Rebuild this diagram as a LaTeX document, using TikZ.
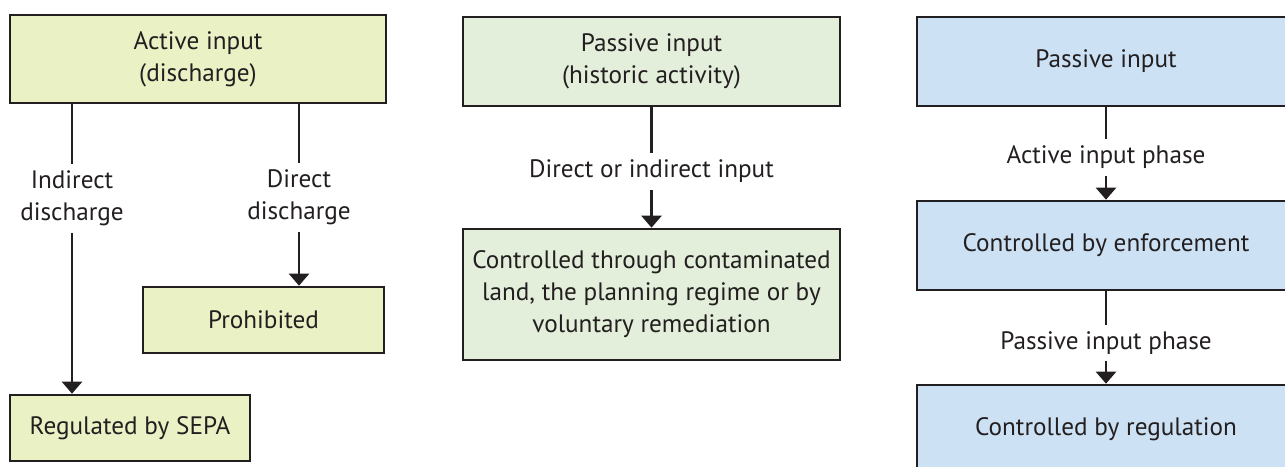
\documentclass[tikz,border=0pt]{standalone}
\usepackage{fontspec}
\setmainfont{PT Sans}
\usetikzlibrary{arrows.meta}
\definecolor{activefill}{HTML}{EAF1C4}
\definecolor{passivefill}{HTML}{E3EFDA}
\definecolor{phasefill}{HTML}{CCE1F3}
\definecolor{linecol}{HTML}{231F20}
\begin{document}
\begin{tikzpicture}[x=0.5pt,y=-0.5pt]
		\tikzstyle{every node}+=[font=\fontsize{12.6}{16}\selectfont, text=linecol]
		\tikzstyle{box}=[draw=linecol, line width=1.3pt, align=center, inner sep=0pt]
		\tikzstyle{lbl}=[fill=white, align=center, inner sep=3.5pt]
		\tikzstyle{arr}=[linecol, line width=1.2pt, -{Triangle[width=10pt,length=6pt]}]
		\useasboundingbox (0,0) rectangle (1285,466);
		\node [box, fill=activefill, minimum width=188pt, minimum height=44pt] (active) at (198,59) {Active input\\(discharge)};
		\node [box, fill=activefill, minimum width=120.5pt, minimum height=33pt] (prohib) at (263.5,320) {Prohibited};
		\node [box, fill=activefill, minimum width=120pt, minimum height=33pt] (sepa) at (130,428) {Regulated by SEPA};
		\coordinate (indx) at (72,0);
		\coordinate (dirx) at (299,0);
		\draw [arr] (active.south -| indx) -- node [lbl, pos=0.325] {Indirect\\discharge} (sepa.north -| indx);
		\draw [arr] (active.south -| dirx) -- node [lbl, pos=0.515] {Direct\\discharge} (prohib.north -| dirx);
		\node [box, fill=passivefill, minimum width=188.5pt, minimum height=44.5pt] (historic) at (651.5,61.5) {Passive input\\(historic activity)};
		\node [box, fill=passivefill, minimum width=188.5pt, minimum height=65.5pt] (land) at (651.5,294.5) {Controlled through contaminated\\land, the planning regime or by\\voluntary remediation};
		\draw [arr] (historic) -- node [lbl, pos=0.53] {Direct or indirect input} (land);
		\node [box, fill=phasefill, minimum width=189pt, minimum height=44.5pt] (passive) at (1106,61.5) {Passive input};
		\node [box, fill=phasefill, minimum width=189pt, minimum height=44.5pt] (enforce) at (1106,245.5) {Controlled by enforcement};
		\node [box, fill=phasefill, minimum width=189pt, minimum height=44.5pt] (regul) at (1106,429.5) {Controlled by regulation};
		\draw [arr] (passive) -- node [lbl, pos=0.54] {Active input phase} (enforce);
		\draw [arr] (enforce) -- node [lbl, pos=0.56] {Passive input phase} (regul);
	\end{tikzpicture}
\end{document}
